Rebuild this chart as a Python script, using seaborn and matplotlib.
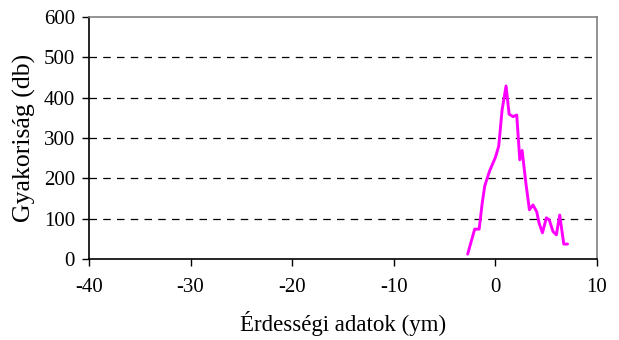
import matplotlib
matplotlib.use("Agg")
import matplotlib.pyplot as plt
import seaborn as sns
import pandas as pd

x_vals = [-2.73, -2.04, -1.6, -1.3, -1.05, -0.59, 0.0, 0.33, 0.66, 1.05, 1.35, 1.74,
          2.1, 2.4, 2.63, 3.0, 3.35, 3.7, 4.07, 4.3, 4.63, 5.02, 5.3, 5.67, 6.0, 6.33, 6.73, 7.1]
y_vals = [12, 74, 74, 138, 181, 217, 252, 280, 370, 429, 359, 353,
          357, 246, 269, 188, 122, 134, 117, 89, 65, 102, 97, 68, 60, 109, 37, 37]
x_ticks = [-40, -30, -20, -10, 0, 10]
y_ticks = [0, 100, 200, 300, 400, 500, 600]

sns.set_theme(style="white")
plt.rcParams['font.family'] = ['Liberation Serif', 'DejaVu Serif']

df = pd.DataFrame({"x": x_vals, "y": y_vals})

fig = plt.figure(figsize=(6.19, 3.40), dpi=100)
ax = fig.add_axes([89/619, 1 - 259/340, (597-89)/619, (259-17)/340])
sns.lineplot(data=df, x="x", y="y", ax=ax, color="#FF00FF", linewidth=2.1, sort=False)

ax.set_xlim(-40, 10)
ax.set_ylim(0, 600)
ax.set_xticks(x_ticks)
ax.set_yticks(y_ticks)
ax.set_xticklabels([str(t) for t in x_ticks])
ax.set_yticklabels([str(t) for t in y_ticks])
ax.tick_params(axis="both", direction="out", length=5, width=1, color="black",
               labelsize=15, labelcolor="black", bottom=True, left=True, pad=5)
ax.tick_params(axis="x", pad=9)
for t in y_ticks[1:-1]:
    ax.axhline(t, color="black", linestyle=(0, (6, 5)), linewidth=0.9, zorder=0)
ax.spines["left"].set_color("black")
ax.spines["bottom"].set_color("black")
ax.spines["top"].set_color("#808080")
ax.spines["right"].set_color("#808080")
for s in ax.spines.values():
    s.set_linewidth(1.2)
ax.set_xlabel("Érdességi adatok (ym)", fontsize=16.5, color="black", labelpad=10)
ax.set_ylabel("Gyakoriság (db)", fontsize=18.5, color="black", labelpad=6)
ax.grid(False)

fig.savefig("out.png", dpi=100, facecolor="white")
